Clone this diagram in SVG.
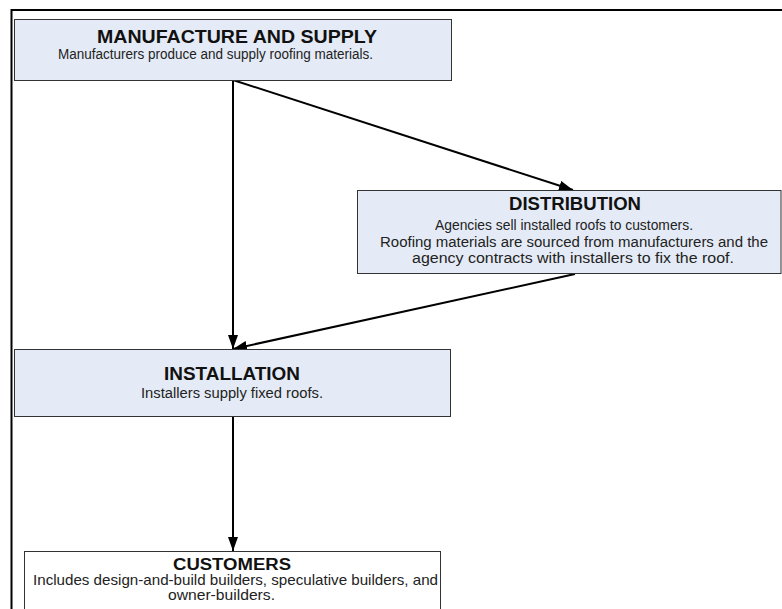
<svg xmlns="http://www.w3.org/2000/svg" width="782" height="609" viewBox="0 0 782 609">
  <defs>
    <marker id="arrow" viewBox="0 0 14 10" refX="14" refY="5" markerWidth="14" markerHeight="10" markerUnits="userSpaceOnUse" orient="auto">
      <path d="M0,0 L14,5 L0,10 Z" fill="#000"/>
    </marker>
    <style>
      .frame { fill: none; stroke: #000; stroke-width: 2; }
      .box { fill: #e5ebf6; stroke: #333; stroke-width: 1; }
      .box-plain { fill: #fff; stroke: #333; stroke-width: 1; }
      text { font-family: "Liberation Sans", Arial, sans-serif; }
      .title { font-weight: bold; font-size: 18.5px; fill: #111; }
      .body { font-size: 14px; fill: #222; }
      .cust-title { font-weight: bold; font-size: 16px; fill: #111; }
      .cust-body { font-size: 14.5px; fill: #222; }
      .link { fill: none; stroke: #000; stroke-width: 2; marker-end: url(#arrow); }
    </style>
  </defs>

  <rect width="782" height="609" fill="#fff"/>

  <!-- outer frame, running past the right and bottom edges -->
  <rect class="frame" x="11.5" y="10" width="800" height="620"/>

  <g id="connectors">
    <line class="link" x1="233" y1="80" x2="233" y2="349"/>
    <line class="link" x1="233" y1="80" x2="573" y2="190"/>
    <line class="link" x1="575" y1="274" x2="233" y2="349"/>
    <line class="link" x1="233" y1="417" x2="233" y2="551"/>
  </g>

  <g id="manufacture">
    <rect class="box" x="14.5" y="19.5" width="437" height="61"/>
    <text class="title" x="97" y="43" textLength="280" lengthAdjust="spacingAndGlyphs">MANUFACTURE AND SUPPLY</text>
    <text class="body" x="58" y="59" textLength="315" lengthAdjust="spacingAndGlyphs">Manufacturers produce and supply roofing materials.</text>
  </g>

  <g id="distribution">
    <rect class="box" x="357.5" y="190.5" width="423.5" height="83"/>
    <text class="title" x="509" y="210" textLength="132" lengthAdjust="spacingAndGlyphs">DISTRIBUTION</text>
    <text class="body" x="435" y="230" textLength="258" lengthAdjust="spacingAndGlyphs">Agencies sell installed roofs to customers.</text>
    <text class="body" x="380" y="246.5" textLength="388" lengthAdjust="spacingAndGlyphs">Roofing materials are sourced from manufacturers and the</text>
    <text class="body" x="412" y="263" textLength="322" lengthAdjust="spacingAndGlyphs">agency contracts with installers to fix the roof.</text>
  </g>

  <g id="installation">
    <rect class="box" x="14.5" y="349.5" width="436" height="67"/>
    <text class="title" x="164" y="380" textLength="136" lengthAdjust="spacingAndGlyphs">INSTALLATION</text>
    <text class="body" x="141" y="398" textLength="182" lengthAdjust="spacingAndGlyphs">Installers supply fixed roofs.</text>
  </g>

  <g id="customers">
    <rect class="box-plain" x="24.5" y="551.5" width="416" height="70"/>
    <text class="cust-title" x="173" y="570" textLength="118" lengthAdjust="spacingAndGlyphs">CUSTOMERS</text>
    <text class="cust-body" x="33" y="585" textLength="405" lengthAdjust="spacingAndGlyphs">Includes design-and-build builders, speculative builders, and</text>
    <text class="cust-body" x="168" y="600" textLength="107" lengthAdjust="spacingAndGlyphs">owner-builders.</text>
  </g>
</svg>
